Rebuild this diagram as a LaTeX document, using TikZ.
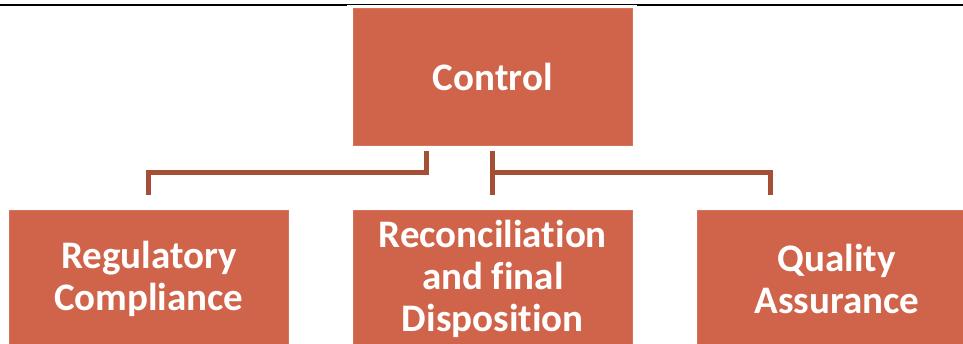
\documentclass[tikz,border=0pt]{standalone}
\usepackage{fontspec}
\setmainfont[Ligatures=NoCommon]{Carlito}
\definecolor{boxfill}{HTML}{D0644A}
\definecolor{boxedge}{HTML}{D67259}
\definecolor{linkcol}{HTML}{A64F37}
\begin{document}
\begin{tikzpicture}[x=1pt,y=-1pt,
  box/.style={fill=boxfill, draw=boxedge, line width=0.6pt,
    minimum width=279pt, minimum height=137pt, inner sep=0pt,
    text=white, align=center, font=\bfseries\fontsize{39}{42}\selectfont},
  link/.style={draw=linkcol, line width=5pt, line join=miter}]
\useasboundingbox (0,0) rectangle (963,344);
\clip (0,0) rectangle (963,344);

% rule along the top edge
\draw[line width=2pt] (0,5) -- (347,5);
\draw[line width=2pt] (637,5) -- (963,5);
\draw[line width=0.8pt] (347,4.6) -- (637,4.6);

% boxes
\node[box, anchor=north west] (ctrl) at (353,8) {Control};
\node[box, anchor=north west] (reg) at (9,210) {Regulatory\\Compliance};
\node[box, anchor=north west] (rec) at (353,210) {Reconciliation\\and final\\Disposition};
\node[box, anchor=north west] (qa) at (697,210) {Quality\\Assurance};

% connectors
\draw[link] ([xshift=-66pt,yshift=-5pt]ctrl.south) -- ++(0,22) -| ([yshift=15pt]reg.north);
\draw[link] ([yshift=-5pt]ctrl.south) -- ([yshift=15pt]rec.north);
\draw[link] ([yshift=-27pt]ctrl.south) -| ([xshift=-66.5pt,yshift=15pt]qa.north);
\end{tikzpicture}
\end{document}
